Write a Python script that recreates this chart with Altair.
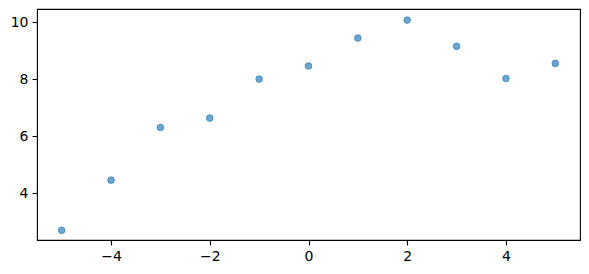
import altair as alt
import pandas as pd

xs = [-5, -4, -3, -2, -1, 0, 1, 2, 3, 4, 5]
ys = [2.69, 4.45, 6.30, 6.63, 8.00, 8.46, 9.44, 10.07, 9.15, 8.02, 8.55]

df = pd.DataFrame({"x": xs, "y": ys})

axis_common = dict(
    grid=False, domain=False, tickColor="black", tickWidth=1.1, tickSize=5,
    labelColor="black", labelFont="DejaVu Sans", labelFontSize=14,
    labelPadding=4, title=None,
)

chart = alt.Chart(df).mark_point(
    shape="circle", size=44, filled=True, fill="#1f77b4", fillOpacity=0.65,
    stroke="#1f77b4", strokeOpacity=0.65, strokeWidth=1
).encode(
    x=alt.X("x:Q", scale=alt.Scale(domain=[-5.5, 5.5], nice=False, zero=False),
            axis=alt.Axis(values=[-4, -2, 0, 2, 4], **axis_common)),
    y=alt.Y("y:Q", scale=alt.Scale(domain=[2.35, 10.46], nice=False, zero=False),
            axis=alt.Axis(values=[4, 6, 8, 10], **axis_common)),
).properties(
    width=543, height=231,
    autosize=alt.AutoSizeParams(type="none"),
    padding={"left": 37, "top": 9, "right": 9, "bottom": 34},
    background="white",
).configure_view(stroke="black", strokeWidth=1.1)

chart.save("out.html", embed_options={"renderer": "svg", "actions": False})
